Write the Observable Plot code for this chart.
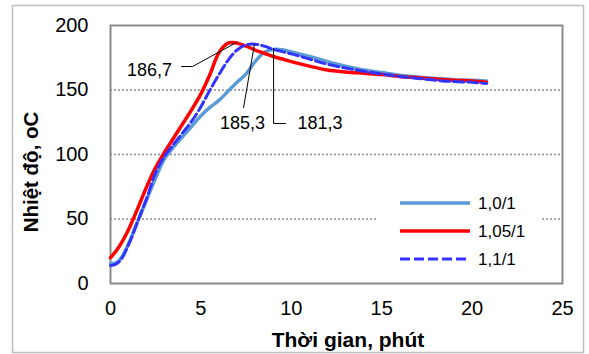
<!DOCTYPE html>
<html>
<head>
<meta charset="utf-8">
<script src="https://cdn.jsdelivr.net/npm/d3@7"></script>
<script src="https://cdn.jsdelivr.net/npm/@observablehq/plot@0.6"></script>
<style>
  html, body { margin: 0; padding: 0; background: #fff; }
  #chart svg { display: block; }
</style>
</head>
<body>
<div id="chart"></div>
<script>
// ---- data ----
const seriesNames = ["1,0/1", "1,05/1", "1,1/1"];

const t10 = [0, 0.3, 0.6, 1.0, 1.5, 2.0, 2.5, 3.0, 3.5, 4.0, 4.5, 5.0, 5.5, 6.0, 6.5, 7.0, 7.5, 8.0, 8.5, 9.0, 9.5, 10, 11, 12, 13, 14, 15, 16, 17, 18, 19, 20, 20.8];
const v10 = [15.5, 16, 20, 31, 48, 65, 82, 97, 106, 114, 122, 130, 136.5, 142, 149, 156, 162.5, 172, 179, 181.5, 181.3, 179.5, 176, 172, 168.5, 165.5, 163.5, 161.5, 160, 159, 158, 157.5, 157];

const t105 = [0, 0.4, 0.9, 1.5, 2.0, 2.5, 3.0, 3.5, 4.0, 4.5, 5.0, 5.5, 6.0, 6.5, 6.9, 7.5, 8.0, 8.5, 9.0, 9.5, 10, 11, 12, 13, 14, 15, 16, 17, 18, 19, 20, 20.8];
const v105 = [20, 27, 39, 58, 75, 90, 102, 113, 124, 135, 147, 162, 179, 186.3, 186.7, 184, 181, 178.5, 176, 174, 172, 168.5, 165.5, 164, 163, 162, 160.5, 159.5, 158.5, 157.5, 157, 156];

const t11 = [0, 0.3, 0.6, 1.0, 1.5, 2.0, 2.5, 3.0, 3.5, 4.0, 4.5, 5.0, 5.5, 6.0, 6.5, 7.0, 7.5, 8.0, 8.5, 9.0, 10, 11, 12, 13, 14, 15, 16, 17, 18, 19, 20, 20.8];
const v11 = [14, 15, 19, 30, 48, 66, 86, 99, 108, 117, 126, 137, 150, 162, 173, 181, 185, 185.5, 184, 181.5, 178, 174, 170, 167, 164.5, 162.5, 160.5, 159, 157.5, 156.5, 156, 155];

const xTicks = [0, 5, 10, 15, 20, 25];
const yTicks = [0, 50, 100, 150, 200];
const gridValues = [50, 100, 150];

// annotation labels (data coordinates)
const annLabels = ["186,7", "185,3", "181,3"];
const annTextX = [2.16, 7.30, 10.34];
const annTextY = [165, 124, 124];
const annLeaders = [
  [[3.93, 168.2], [4.54, 168.2], [6.95, 186.7]],
  [[7.36, 136.4], [7.96, 185.3]],
  [[9.68, 124], [9.02, 124], [9.02, 182.2]]
];

const xLabel = "Thời gian, phút";
const yLabel = "Nhiệt độ, oC";

// ---- build ----
const colors = ["#5B9BD5", "#FF0000", "#3333FF"];
const toRows = (t, v) => t.map((x, i) => ({x, y: v[i]}));
const rows = [toRows(t10, v10), toRows(t105, v105), toRows(t11, v11)];

const annText = annLabels.map((s, i) => ({s, x: annTextX[i], y: annTextY[i]}));
const leaderRows = annLeaders.flatMap((pts, k) => pts.map(([x, y]) => ({x, y, k})));

const W = 589, H = 354;
const mL = 110, mR = 27, mT = 25, mB = 71;

const plot = Plot.plot({
  width: W,
  height: H,
  marginLeft: mL,
  marginRight: mR,
  marginTop: mT,
  marginBottom: mB,
  style: {fontFamily: "'Liberation Sans', Arial, sans-serif", color: "#000", background: "#fff"},
  x: {domain: [0, 25], axis: null},
  y: {domain: [0, 200], axis: null},
  marks: [
    Plot.ruleY(gridValues, {stroke: "#8a8a8a", strokeWidth: 1.5, strokeDasharray: "2,2"}),
    Plot.frame({stroke: "#8a8a8a", strokeWidth: 2}),
    // tick labels
    Plot.text(xTicks, {x: d => d, frameAnchor: "bottom", dy: 25, lineAnchor: "middle", textAnchor: "middle", fontSize: 20, fill: "#000"}),
    Plot.text(yTicks, {y: d => d, frameAnchor: "left", dx: -22, lineAnchor: "middle", textAnchor: "end", fontSize: 20, fill: "#000"}),
    Plot.line(rows[0], {x: "x", y: "y", stroke: colors[0], strokeWidth: 3.5, curve: "catmull-rom"}),
    Plot.line(rows[1], {x: "x", y: "y", stroke: colors[1], strokeWidth: 3.5, curve: "catmull-rom"}),
    Plot.line(rows[2], {x: "x", y: "y", stroke: colors[2], strokeWidth: 3, strokeDasharray: "10,4", curve: "catmull-rom"}),
    Plot.line(leaderRows, {x: "x", y: "y", z: "k", stroke: "#000", strokeWidth: 1}),
    Plot.text(annText.slice(0, 2), {x: "x", y: "y", text: "s", textAnchor: "middle", fontSize: 18, fill: "#000"}),
    Plot.text(annText.slice(2), {x: "x", y: "y", text: "s", textAnchor: "start", fontSize: 18, fill: "#000"})
  ]
});

const svg = d3.select(plot);

// outer border
svg.insert("rect", ":first-child")
  .attr("x", 12.5).attr("y", 5.5).attr("width", 571).attr("height", 347)
  .attr("fill", "#fff").attr("stroke", "#bdbdbd").attr("stroke-width", 1.5);

// axis titles
svg.append("text")
  .attr("x", 348).attr("y", 347)
  .attr("text-anchor", "middle")
  .attr("font-size", 21).attr("font-weight", "bold")
  .attr("fill", "#000")
  .text(xLabel);
svg.append("text")
  .attr("transform", "translate(38,172) rotate(-90)")
  .attr("text-anchor", "middle")
  .attr("font-size", 20.5).attr("font-weight", "bold")
  .attr("fill", "#000")
  .text(yLabel);

// legend
const lg = svg.append("g");
lg.append("rect").attr("x", 377).attr("y", 190).attr("width", 165).attr("height", 84).attr("fill", "#fff");
const rowY = [203, 231, 259];
seriesNames.forEach((name, i) => {
  lg.append("line")
    .attr("x1", 400).attr("x2", 470).attr("y1", rowY[i]).attr("y2", rowY[i])
    .attr("stroke", colors[i]).attr("stroke-width", i === 2 ? 3 : 3.5)
    .attr("stroke-dasharray", i === 2 ? "10,4" : null);
  lg.append("text")
    .attr("x", 478).attr("y", rowY[i]).attr("dy", "0.35em")
    .attr("text-anchor", "start")
    .attr("font-size", 17).attr("fill", "#000")
    .text(name);
});

document.getElementById("chart").appendChild(plot);
</script>
</body>
</html>
